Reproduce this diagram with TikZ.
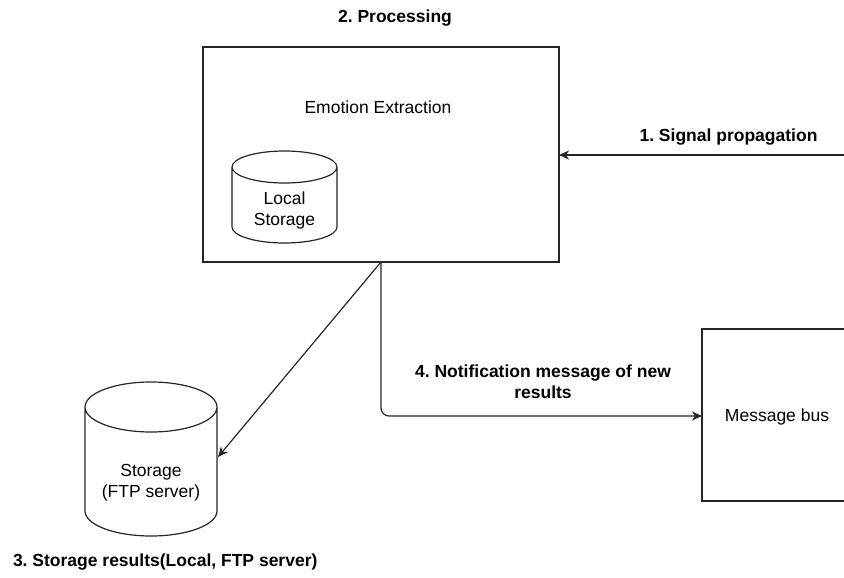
\documentclass[tikz,border=0pt]{standalone}
\usepackage{fontspec}
\setmainfont{Liberation Sans}
\usetikzlibrary{arrows.meta}
\frenchspacing
\begin{document}
\begin{tikzpicture}[x=1pt,y=-1pt,
  every node/.style={inner sep=0pt, outer sep=0pt, font=\fontsize{17.5}{21}\selectfont},
  line/.style={draw=black!85, line width=1.2pt},
  box/.style={line, rectangle},
  lbl/.style={font=\fontsize{17.5}{21}\selectfont\bfseries, align=center},
  txt/.style={align=center},
  conn/.style={line, -{Stealth[length=10pt,width=9pt,inset=3pt]}},
  cyl/.style={line, fill=white}
]
\useasboundingbox (0,0) rectangle (844,578);
\path[clip] (0,0) rectangle (844,578);

% processing block
\node[box, minimum width=356pt, minimum height=215pt] (proc) at (381,154.5) {};
\node[txt] (emo) at (378,107) {Emotion Extraction};
\node[lbl] (proclbl) at (395,18) {2. Processing};

% local storage cylinder inside the processing block (y axis points down)
\path[cyl] (232,167) -- (232,227) arc[start angle=180, end angle=0, x radius=52.5, y radius=16]
  -- (337,167) arc[start angle=360, end angle=180, x radius=52.5, y radius=16]
  arc[start angle=180, end angle=0, x radius=52.5, y radius=16];
\node[txt] (local) at (284.5,210.5) {Local\\Storage};

% remote storage cylinder
\path[cyl] (85,407) -- (85,511) arc[start angle=180, end angle=0, x radius=66, y radius=25]
  -- (217,407) arc[start angle=360, end angle=180, x radius=66, y radius=25]
  arc[start angle=180, end angle=0, x radius=66, y radius=25];
\node[txt] (ftp) at (151,482.5) {Storage\\(FTP server)};
\coordinate (ftpin) at (218,457);
\node[lbl, anchor=west] (storelbl) at (13,562) {3. Storage results(Local, FTP server)};

% message bus block (runs past the right edge)
\node[box, minimum width=200pt, minimum height=172pt] (bus) at (802,415) {};
\node[txt] (buslbl) at (777,417) {Message bus};

% incoming signal
\coordinate (src) at (846,155);
\draw[conn] (src) -- (proc.east |- src);
\node[lbl] (siglbl) at (728.5,137) {1. Signal propagation};

% results to storage
\coordinate (out) at (381,262);
\draw[conn] (out) -- (ftpin);

% notification to message bus
\draw[conn, rounded corners=8pt] (out) -- (381,416) -- (bus.west |- 0,416);
\node[lbl] (notelbl) at (543,381.5) {4. Notification message of new\\results};
\end{tikzpicture}
\end{document}
